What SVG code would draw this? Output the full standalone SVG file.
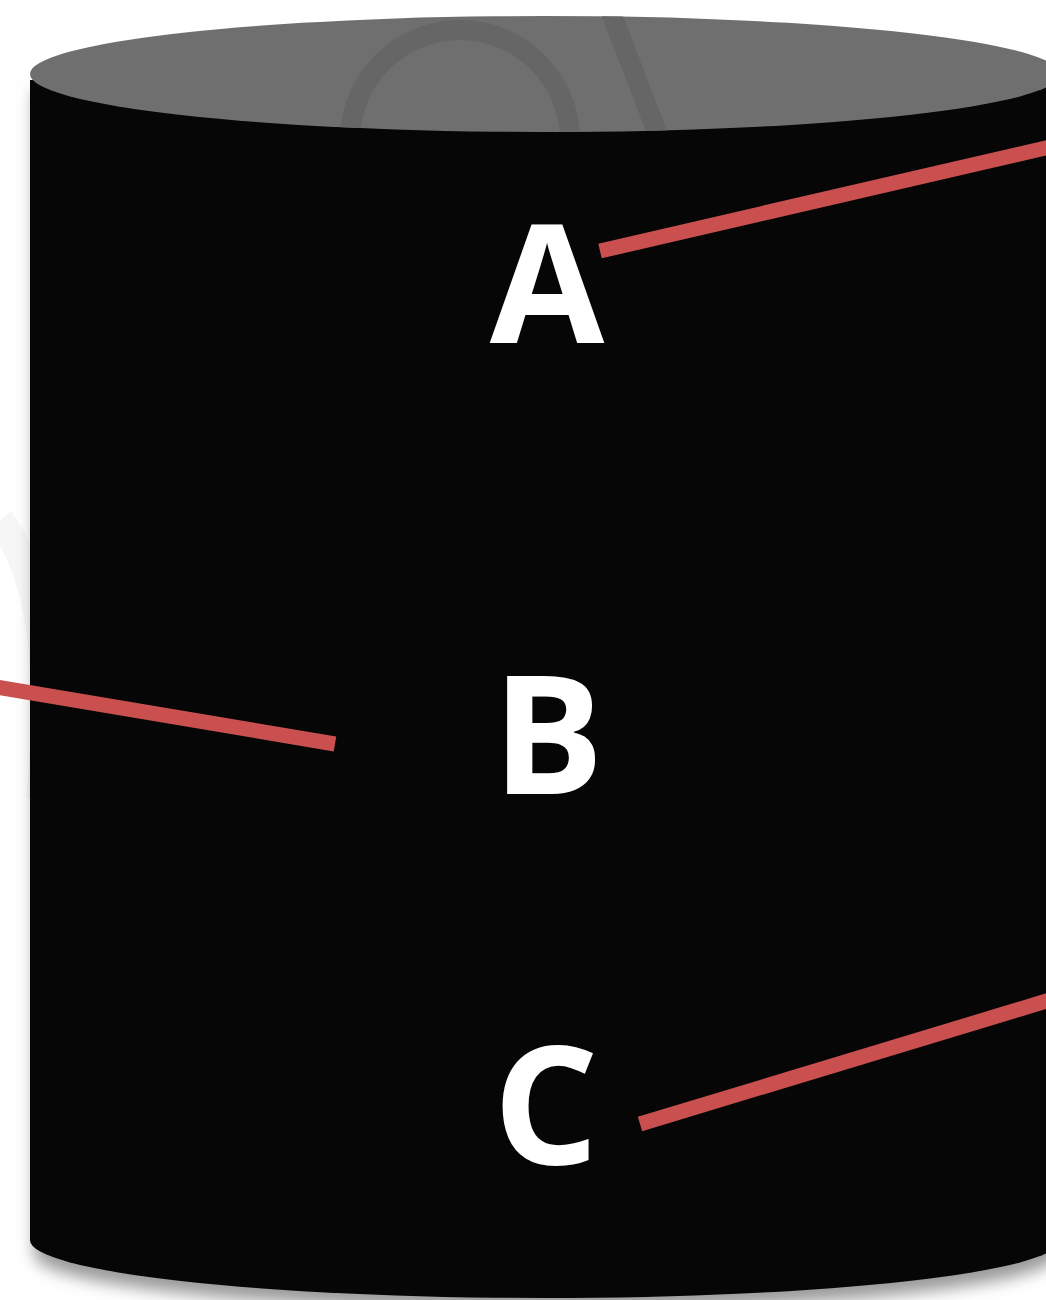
<svg xmlns="http://www.w3.org/2000/svg" width="1046" height="1300" viewBox="0 0 1046 1300">
<defs>
<filter id="sh" x="-10%" y="-10%" width="120%" height="120%"><feGaussianBlur stdDeviation="8"/></filter>
<clipPath id="topclip"><ellipse cx="545" cy="74" rx="515" ry="58"/></clipPath>
<style>
.lbl{font-family:"Open Sans","Liberation Sans",sans-serif;font-weight:700;font-size:166px;fill:#ffffff;text-anchor:middle}
.con{stroke:#c9504f;stroke-width:15;fill:none}
</style>
</defs>
<rect width="1046" height="1300" fill="#ffffff"/>
<g id="watermark" fill="none" stroke="#f6f6f6" stroke-width="28">
<path d="M0 520 Q60 600 40 800"/>
</g>
<g id="cylinder">
<path d="M34 84 L34 1248 A512 56 0 0 0 1058 1248 L1058 84 Z" fill="#9a9a9a" filter="url(#sh)" transform="translate(0,6)"/>
<path d="M30 80 L30 1240 A515 58 0 0 0 1060 1240 L1060 80 Z" fill="#060606"/>
<ellipse cx="545" cy="74" rx="515" ry="58" fill="#6f6f6f"/>
<g clip-path="url(#topclip)" fill="none" stroke="#666666" stroke-width="20">
<path d="M350 140 A110 110 0 0 1 570 140"/>
<path d="M610 10 L660 140"/>
</g>
</g>
<g id="connectors">
<line class="con" x1="600" y1="251" x2="1050" y2="147"/>
<line class="con" x1="-4" y1="687" x2="335" y2="744"/>
<line class="con" x1="640" y1="1124" x2="1050" y2="1000"/>
</g>
<g id="node-A"><text class="lbl" x="547" y="343">A</text></g>
<g id="node-B"><text class="lbl" x="548" y="794">B</text></g>
<g id="node-C"><text class="lbl" x="546" y="1164">C</text></g>
</svg>
